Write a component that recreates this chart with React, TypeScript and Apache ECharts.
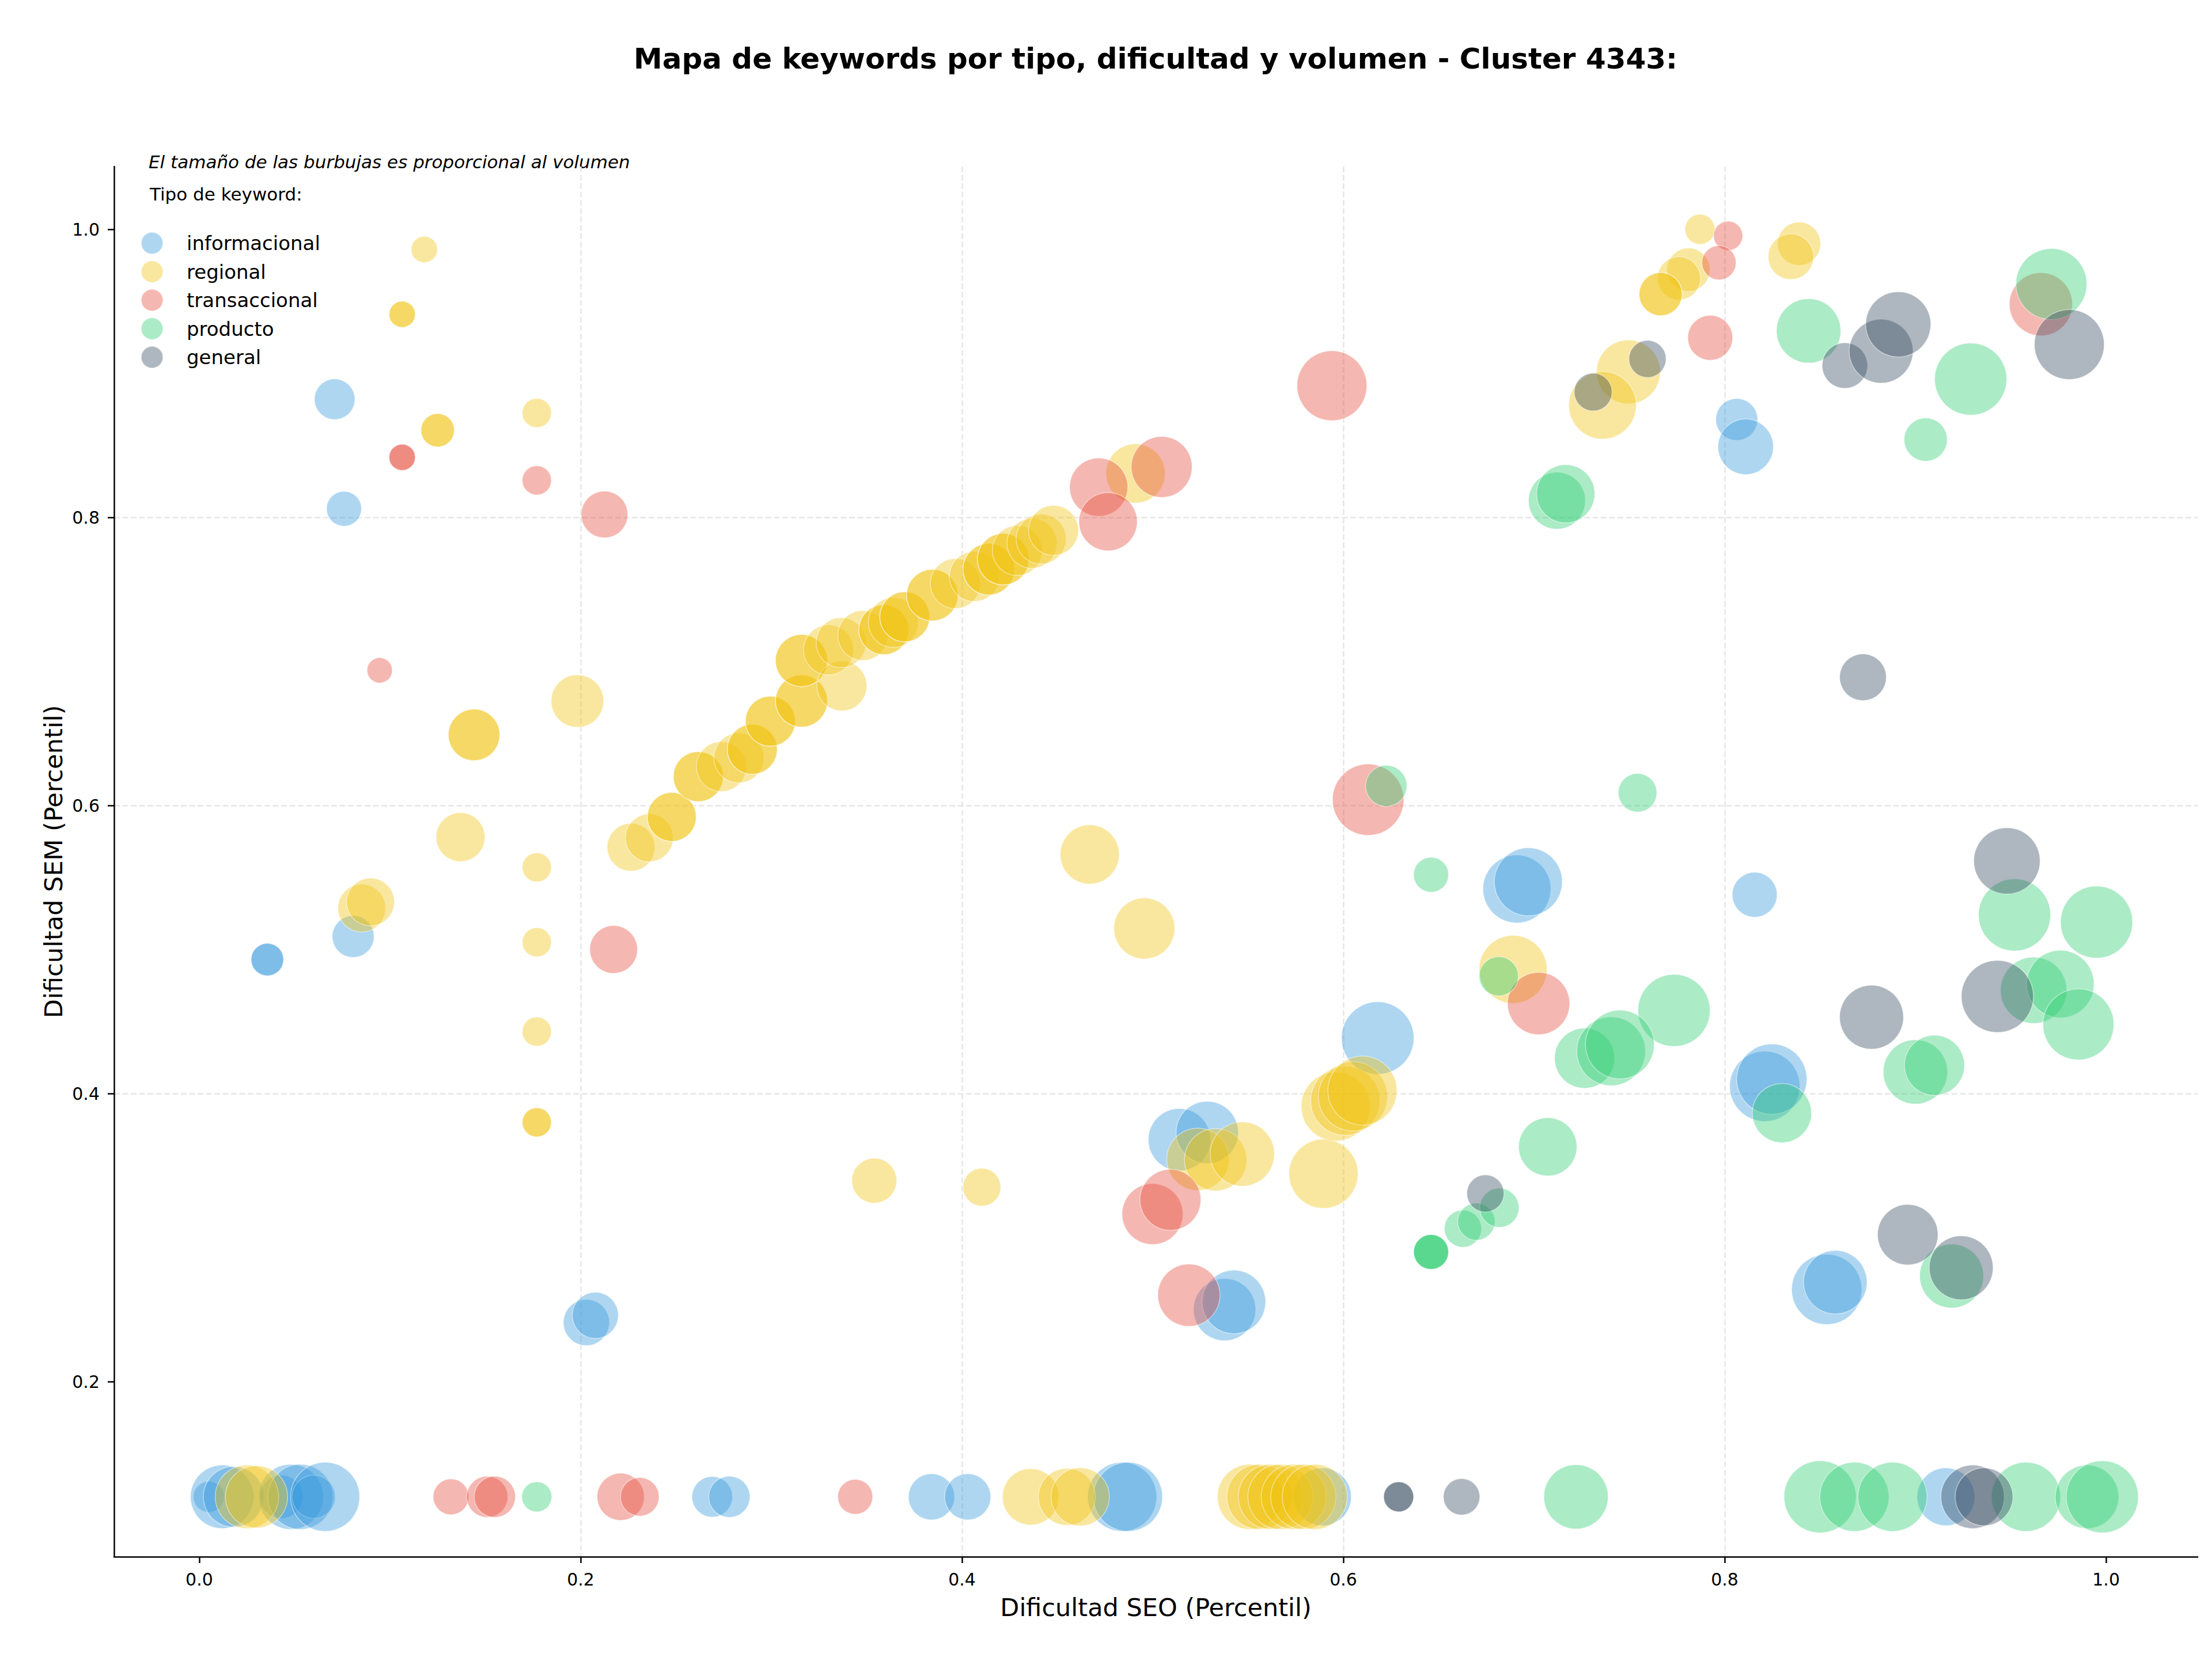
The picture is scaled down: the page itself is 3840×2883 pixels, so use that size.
import React, { useEffect, useRef } from "react";
import * as echarts from "echarts";

// Each keyword: [Dificultad SEO, Dificultad SEM, volumen]
const informacional: number[][] = [
  [0.005, 0.12, 180], [0.012, 0.12, 760], [0.018, 0.12, 690], [0.043, 0.12, 350],
  [0.048, 0.12, 800], [0.053, 0.12, 800], [0.06, 0.12, 350], [0.066, 0.12, 900],
  [0.269, 0.12, 310], [0.278, 0.12, 320], [0.384, 0.12, 400], [0.403, 0.12, 400],
  [0.484, 0.12, 900], [0.487, 0.12, 900], [0.589, 0.12, 630], [0.916, 0.12, 630],
  [0.071, 0.882, 310], [0.0759, 0.806, 230], [0.0357, 0.493, 200], [0.0357, 0.493, 200],
  [0.0807, 0.509, 330], [0.203, 0.241, 400], [0.2077, 0.246, 400],
  [0.691, 0.542, 870], [0.697, 0.547, 870], [0.618, 0.4385, 990], [0.8157, 0.538, 380],
  [0.821, 0.405, 930], [0.8247, 0.41, 930], [0.8535, 0.264, 930], [0.858, 0.269, 760],
  [0.8063, 0.868, 330], [0.811, 0.849, 580], [0.514, 0.368, 730], [0.5286, 0.373, 730],
  [0.5377, 0.25, 730], [0.5426, 0.2553, 760],
];

const regional: number[][] = [
  [0.025, 0.12, 760], [0.03, 0.12, 730], [0.436, 0.12, 600], [0.455, 0.12, 610],
  [0.462, 0.12, 640], [0.551, 0.12, 800], [0.556, 0.12, 800], [0.562, 0.12, 800],
  [0.567, 0.12, 800], [0.574, 0.12, 800], [0.579, 0.12, 800], [0.585, 0.12, 800],
  [0.118, 0.986, 130], [0.1064, 0.941, 130], [0.1064, 0.941, 130],
  [0.125, 0.8605, 210], [0.125, 0.8605, 210], [0.177, 0.8725, 160],
  [0.1441, 0.649, 500], [0.1441, 0.649, 500], [0.1983, 0.6725, 520], [0.137, 0.578, 450],
  [0.0852, 0.5287, 430], [0.0898, 0.533, 430], [0.177, 0.557, 160], [0.177, 0.505, 160],
  [0.177, 0.443, 160], [0.177, 0.38, 160], [0.177, 0.38, 160],
  [0.2264, 0.571, 430], [0.236, 0.5775, 430], [0.2478, 0.592, 450], [0.2478, 0.592, 450],
  [0.2617, 0.62, 470], [0.2617, 0.62, 470], [0.2738, 0.627, 470], [0.283, 0.633, 470],
  [0.29, 0.639, 470], [0.29, 0.639, 470], [0.2995, 0.6585, 470], [0.2995, 0.6585, 470],
  [0.3158, 0.6725, 510], [0.3158, 0.6725, 510], [0.3158, 0.7006, 510], [0.3158, 0.7006, 510],
  [0.337, 0.683, 470], [0.33, 0.708, 470], [0.3366, 0.713, 470], [0.348, 0.718, 470],
  [0.359, 0.722, 470], [0.359, 0.722, 470], [0.364, 0.727, 470], [0.37, 0.731, 470],
  [0.37, 0.731, 470], [0.3844, 0.746, 500], [0.3844, 0.746, 500], [0.3965, 0.754, 470],
  [0.4065, 0.759, 470], [0.414, 0.764, 500], [0.414, 0.764, 500], [0.4216, 0.771, 500],
  [0.4216, 0.771, 500], [0.429, 0.777, 470], [0.4367, 0.782, 470], [0.4415, 0.785, 470],
  [0.448, 0.791, 470], [0.491, 0.8305, 660],
  [0.467, 0.566, 660], [0.4956, 0.5146, 700], [0.354, 0.3395, 380], [0.4104, 0.335, 270],
  [0.5237, 0.3543, 730], [0.533, 0.354, 730], [0.547, 0.358, 780], [0.5896, 0.3443, 900],
  [0.596, 0.391, 900], [0.601, 0.395, 900], [0.605, 0.398, 900], [0.61, 0.402, 900],
  [0.689, 0.4862, 870], [0.787, 1.0, 170], [0.781, 0.972, 350], [0.776, 0.966, 350],
  [0.7664, 0.955, 350], [0.7664, 0.955, 350], [0.839, 0.99, 350], [0.8347, 0.981, 390],
  [0.7495, 0.901, 770], [0.7359, 0.8778, 860],
];

const transaccional: number[][] = [
  [0.132, 0.12, 240], [0.151, 0.12, 320], [0.155, 0.12, 320], [0.221, 0.12, 420],
  [0.231, 0.12, 280], [0.344, 0.12, 230],
  [0.1064, 0.8417, 130], [0.1064, 0.8417, 130], [0.177, 0.8257, 160], [0.2125, 0.802, 410],
  [0.0946, 0.6938, 120], [0.2173, 0.5, 430], [0.4717, 0.821, 640], [0.5047, 0.835, 700],
  [0.4766, 0.797, 640], [0.594, 0.8914, 920], [0.613, 0.604, 960], [0.7024, 0.4625, 730],
  [0.4999, 0.3163, 700], [0.5093, 0.3262, 700], [0.519, 0.26, 730], [0.8018, 0.9955, 160],
  [0.797, 0.9768, 220], [0.7924, 0.9247, 380], [0.9658, 0.948, 750],
];

const producto: number[][] = [
  [0.177, 0.12, 170], [0.722, 0.12, 780], [0.85, 0.12, 980], [0.868, 0.12, 900],
  [0.888, 0.12, 900], [0.958, 0.12, 900], [0.99, 0.12, 760], [0.998, 0.12, 980],
  [0.712, 0.8116, 610], [0.7166, 0.8164, 640], [0.844, 0.9295, 780], [0.9713, 0.962, 950],
  [0.929, 0.896, 980], [0.9054, 0.854, 350], [0.7543, 0.6088, 280], [0.6225, 0.6136, 320],
  [0.646, 0.5519, 230], [0.995, 0.519, 980], [0.952, 0.524, 980], [0.962, 0.4717, 830],
  [0.976, 0.476, 860], [0.9855, 0.448, 950], [0.7734, 0.4577, 980], [0.7265, 0.4245, 680],
  [0.7404, 0.4293, 890], [0.745, 0.434, 890], [0.7072, 0.363, 640], [0.9, 0.415, 780],
  [0.91, 0.4196, 680], [0.83, 0.3864, 660], [0.919, 0.2733, 770], [0.6627, 0.3062, 260],
  [0.6697, 0.311, 260], [0.6818, 0.3207, 290], [0.646, 0.29, 230], [0.646, 0.29, 230],
  [0.646, 0.29, 230], [0.6815, 0.4814, 290],
];

const general: number[][] = [
  [0.629, 0.12, 170], [0.629, 0.12, 170], [0.662, 0.12, 250], [0.93, 0.12, 760],
  [0.936, 0.12, 630], [0.731, 0.887, 270], [0.7595, 0.91, 260], [0.863, 0.9054, 390],
  [0.882, 0.9154, 770], [0.891, 0.934, 800], [0.9807, 0.92, 920], [0.8725, 0.689, 410],
  [0.948, 0.5615, 830], [0.943, 0.4674, 980], [0.877, 0.453, 770], [0.896, 0.302, 690],
  [0.924, 0.279, 770], [0.6745, 0.3306, 260],
];

const tipos = ["informacional", "regional", "transaccional", "producto", "general"];
const colores = ["#3498db", "#f1c40f", "#e74c3c", "#2ecc71", "#34495e"];
const datosPorTipo = [informacional, regional, transaccional, producto, general];

const xTicks = [0, 0.2, 0.4, 0.6, 0.8, 1.0];
const yTicks = [0.2, 0.4, 0.6, 0.8, 1.0];

const titulo = "Mapa de keywords por tipo, dificultad y volumen - Cluster 4343:";
const notaTamano = "El tamaño de las burbujas es proporcional al volumen";
const tituloLeyenda = "Tipo de keyword:";

const FONT = '"DejaVu Sans", Verdana, sans-serif';

function withAlpha(hex: string, a: number) {
  const r = parseInt(hex.slice(1, 3), 16);
  const g = parseInt(hex.slice(3, 5), 16);
  const b = parseInt(hex.slice(5, 7), 16);
  return `rgba(${r},${g},${b},${a})`;
}

export default function App() {
  const ref = useRef<HTMLDivElement>(null);

  useEffect(() => {
    if (!ref.current) return;
    const chart = echarts.init(ref.current, undefined, { renderer: "svg" });

    const gridLine = {
      show: true,
      showMinLine: false,
      showMaxLine: false,
      lineStyle: { color: "#e6e6e6", width: 2.5, type: [10, 4.5] },
    };

    const series = tipos.map((t, i) => ({
      name: t,
      type: "scatter",
      data: datosPorTipo[i],
      symbol: "circle",
      symbolSize: (v: number[]) => 4 * Math.sqrt(v[2]),
      itemStyle: {
        color: withAlpha(colores[i], 0.5),
        borderColor: "rgba(255,255,255,0.6)",
        borderWidth: 1.5,
      },
      emphasis: { disabled: true },
      silent: true,
      clip: false,
    }));

    chart.setOption({
      animation: false,
      backgroundColor: "#ffffff",
      textStyle: { fontFamily: FONT },
      grid: { left: 198, right: 25, top: 289, bottom: 181, containLabel: false },
      xAxis: {
        type: "value",
        min: -0.0447,
        max: 1.048,
        name: "Dificultad SEO (Percentil)",
        nameLocation: "middle",
        nameGap: 66,
        nameTextStyle: { fontSize: 43, color: "#000", fontFamily: FONT },
        axisLine: { show: true, onZero: false, lineStyle: { color: "#000", width: 2.5 } },
        axisTick: { show: true, length: 11, customValues: xTicks, lineStyle: { color: "#000", width: 2.5 } },
        axisLabel: {
          customValues: xTicks,
          formatter: (v: number) => v.toFixed(1),
          fontSize: 30,
          color: "#000",
          margin: 24,
          fontFamily: FONT,
        },
        splitLine: gridLine,
      },
      yAxis: {
        type: "value",
        min: 0.0784,
        max: 1.0436,
        name: "Dificultad SEM (Percentil)",
        nameLocation: "middle",
        nameGap: 81,
        nameRotate: 90,
        nameTextStyle: { fontSize: 43, color: "#000", fontFamily: FONT },
        axisLine: { show: true, onZero: false, lineStyle: { color: "#000", width: 2.5 } },
        axisTick: { show: true, length: 11, customValues: yTicks, lineStyle: { color: "#000", width: 2.5 } },
        axisLabel: {
          customValues: yTicks,
          formatter: (v: number) => v.toFixed(1),
          fontSize: 30,
          color: "#000",
          margin: 25,
          fontFamily: FONT,
        },
        splitLine: gridLine,
      },
      legend: {
        orient: "vertical",
        left: 244,
        top: 402,
        padding: 0,
        itemWidth: 38,
        itemHeight: 38,
        itemGap: 9.5,
        icon: "circle",
        data: tipos,
        selectedMode: false,
        textStyle: { fontSize: 34, color: "#000", fontFamily: FONT, padding: [0, 0, 0, 36] },
      },
      graphic: [
        {
          type: "text",
          x: 2006,
          y: 102,
          style: {
            text: titulo,
            font: `bold 50px ${FONT}`,
            fill: "#000",
            textAlign: "center",
            textVerticalAlign: "middle",
          },
        },
        {
          type: "text",
          x: 258,
          y: 281,
          style: {
            text: notaTamano,
            font: `italic 31px ${FONT}`,
            fill: "#000",
            textAlign: "left",
            textVerticalAlign: "middle",
          },
        },
        {
          type: "text",
          x: 260,
          y: 337,
          style: {
            text: tituloLeyenda,
            font: `31px ${FONT}`,
            fill: "#000",
            textAlign: "left",
            textVerticalAlign: "middle",
          },
        },
      ],
      series,
    });

    return () => chart.dispose();
  }, []);

  return (
    <div
      ref={ref}
      style={{ position: "absolute", left: 0, top: 0, width: 3840, height: 2883 }}
    />
  );
}
